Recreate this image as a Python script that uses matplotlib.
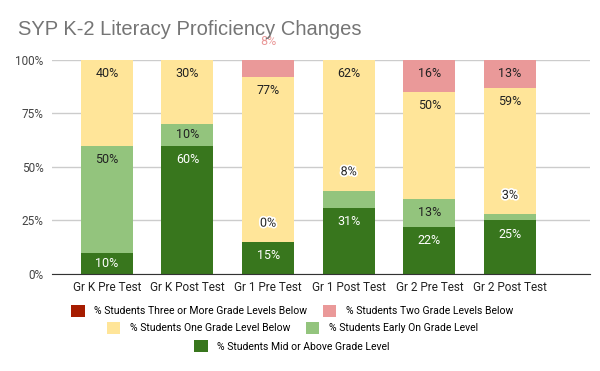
import numpy as np
import matplotlib
matplotlib.use("Agg")
import matplotlib.pyplot as plt
import matplotlib.patheffects as pe
from matplotlib.patches import Patch

# ── Data ──────────────────────────────────────────────────────────────────────

CATEGORIES = ["Gr K Pre Test", "Gr K Post Test", "Gr 1 Pre Test",
              "Gr 1 Post Test", "Gr 2 Pre Test", "Gr 2 Post Test"]

# stacked bottom -> top; nan = blank cell (no label)
MID_ABOVE   = [10, 60, 15, 31, 22, 25]
EARLY_ON    = [50, 10, 0, 8, 13, 3]
ONE_BELOW   = [40, 30, 77, 62, 50, 59]
TWO_BELOW   = [np.nan, np.nan, 8, np.nan, 16, 13]
THREE_BELOW = [np.nan] * 6

SERIES = [
    ("% Students Mid or Above Grade Level", MID_ABOVE, "#38761d", "white"),
    ("% Students Early On Grade Level", EARLY_ON, "#93c47d", "#222222"),
    ("% Students One Grade Level Below", ONE_BELOW, "#ffe599", "#222222"),
    ("% Students Two Grade Levels Below", TWO_BELOW, "#ea9999", "#222222"),
    ("% Students Three or More Grade Levels Below", THREE_BELOW, "#a61c00", "white"),
]

plt.rcParams["font.family"] = ["Roboto", "DejaVu Sans"]

# ── Plot ──────────────────────────────────────────────────────────────────────

fig = plt.figure(figsize=(6, 3.71), dpi=100)
ax = fig.add_axes([0.0867, 0.2615, 0.8963, 0.5768])

x = np.arange(len(CATEGORIES))
bottom = np.zeros(len(CATEGORIES))
handles = {}
for name, vals, color, tcolor in SERIES:
    v = np.array(vals, dtype=float)
    h = np.nan_to_num(v)
    ax.bar(x, h, bottom=bottom, width=0.645, color=color, zorder=2)
    handles[name] = Patch(facecolor=color, edgecolor="none")
    for i, val in enumerate(v):
        if np.isnan(val):
            continue
        top = min(bottom[i] + h[i], 100)
        txt = f"{int(val)}%"
        if val < 9:
            # small segment: label sits above the segment
            c = color if top >= 100 else "#222222"
            t = ax.annotate(txt, (x[i], top), xytext=(0, 13.5), textcoords="offset points",
                            ha="center", va="center", fontsize=9, color=c,
                            annotation_clip=False, zorder=4)
            if top < 100:
                t.set_path_effects([pe.withStroke(linewidth=2.5, foreground="white")])
        elif val < 14:
            ax.text(x[i], bottom[i] + h[i] / 2, txt, ha="center", va="center",
                    fontsize=9, color=tcolor, zorder=3)
        else:
            ax.annotate(txt, (x[i], top), xytext=(0, -10), textcoords="offset points",
                        ha="center", va="center", fontsize=9, color=tcolor,
                        annotation_clip=False, zorder=3)
    bottom += h

ax.set_xlim(-0.68, 5.99)
ax.set_ylim(0, 100)
ax.set_yticks([0, 25, 50, 75, 100])
ax.set_yticklabels(["0%", "25%", "50%", "75%", "100%"])
ax.set_xticks(x)
ax.set_xticklabels(CATEGORIES)
ax.tick_params(axis="both", length=0, labelsize=8.5, colors="#222222")
ax.tick_params(axis="y", pad=6, labelcolor="#444444")
ax.tick_params(axis="x", pad=5)
ax.grid(axis="y", color="#cccccc", linewidth=1, zorder=0)
for s in ["top", "right", "left"]:
    ax.spines[s].set_visible(False)
ax.spines["bottom"].set_color("#333333")
ax.spines["bottom"].set_zorder(5)

fig.text(0.03, 0.92, "SYP K-2 Literacy Proficiency Changes", fontsize=14.5,
         color="#757575", ha="left", va="center",
         family=["Liberation Sans", "DejaVu Sans"])

# legend rows, centred as in the original
rows = [
    (["% Students Three or More Grade Levels Below", "% Students Two Grade Levels Below"], 0.162),
    (["% Students One Grade Level Below", "% Students Early On Grade Level"], 0.116),
    (["% Students Mid or Above Grade Level"], 0.067),
]
for names, yy in rows:
    fig.legend([handles[n] for n in names], names, loc="center",
               bbox_to_anchor=(0.487, yy), ncol=len(names), frameon=False,
               fontsize=7.5, handlelength=1.3, handleheight=1.3,
               handletextpad=0.9, columnspacing=1.5, borderpad=0)

fig.savefig("out.png", dpi=100)
